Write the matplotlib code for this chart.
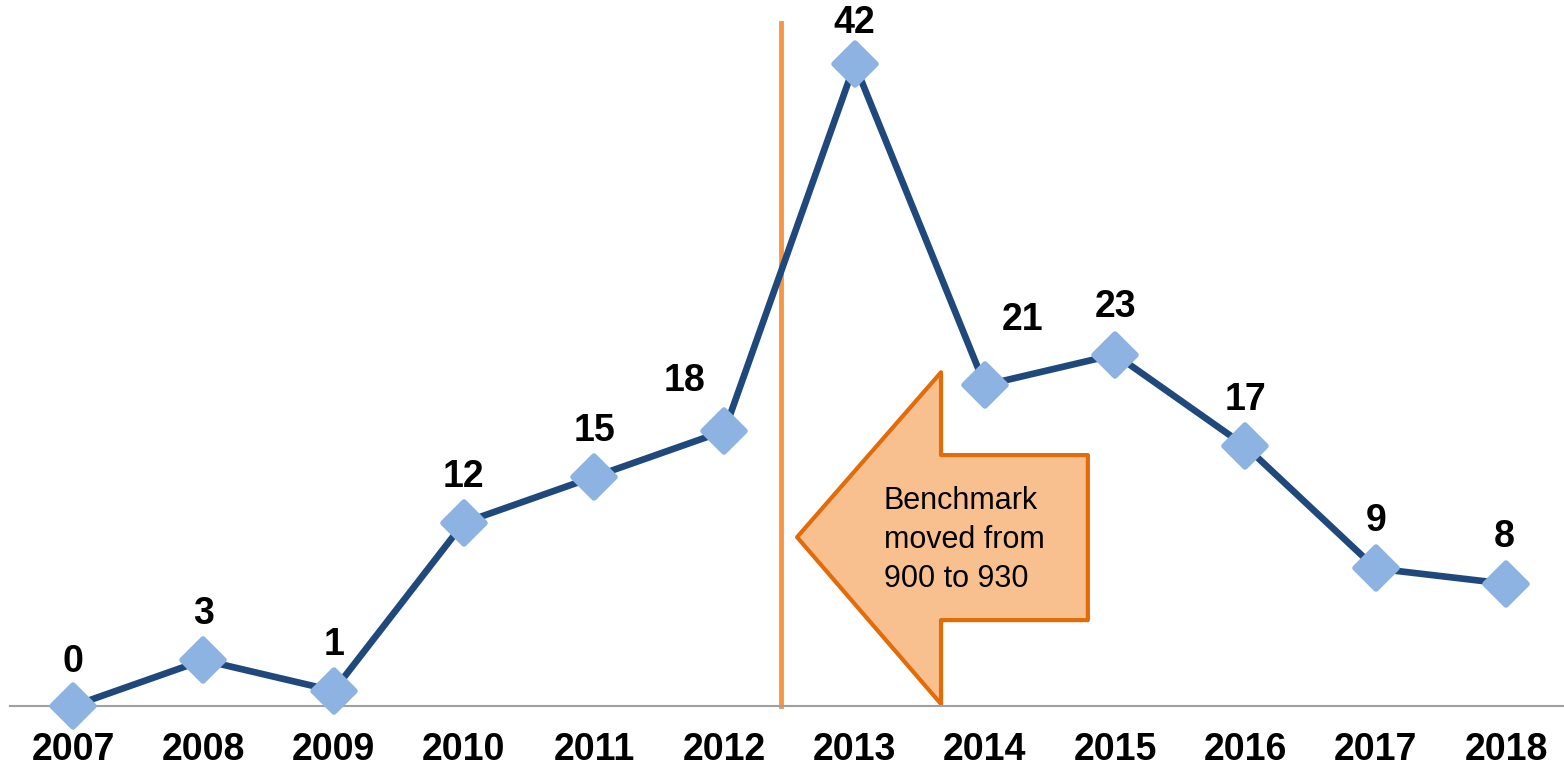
import matplotlib.pyplot as plt
from matplotlib.patches import Polygon
from matplotlib.markers import MarkerStyle

plt.rcParams['font.family'] = ['Liberation Sans', 'DejaVu Sans']

years = ['2007', '2008', '2009', '2010', '2011', '2012',
         '2013', '2014', '2015', '2016', '2017', '2018']
counts = [0, 3, 1, 12, 15, 18, 42, 21, 23, 17, 9, 8]
# label offsets in points (dx, dy) relative to each marker
label_offsets = [(0, 32), (0, 33), (0, 33), (0, 33), (0, 33), (-29, 36),
                 (0, 30), (27, 47), (0, 34), (0, 33), (0, 34), (-1, 34)]

benchmark_x = 5.435
note = 'Benchmark\nmoved from\n900 to 930'

fig = plt.figure(figsize=(15.64, 7.69), dpi=100)
ax = fig.add_axes([10 / 1564, 63 / 769, 1554 / 1564, 706 / 769])

x = list(range(len(years)))
diamond = MarkerStyle('D', joinstyle='round')
ax.plot(x, counts, color='#1F497D', lw=4.8, zorder=3,
        marker=diamond, ms=21, mfc='#8DB3E2', mec='#8DB3E2', mew=4,
        solid_joinstyle='round', clip_on=False)

for xi, v, (dx, dy) in zip(x, counts, label_offsets):
    ax.annotate(str(v), (xi, v), xytext=(dx, dy), textcoords='offset points',
                ha='center', va='center', fontsize=27, fontweight='bold',
                annotation_clip=False)

# benchmark change line
ax.plot([benchmark_x, benchmark_x], [0, 44.7], color='#F79646', lw=3.5,
        zorder=2, clip_on=False)

# callout arrow
arrow = Polygon([(5.558, 11.05), (6.663, 21.84), (6.663, 16.42), (7.79, 16.42),
                 (7.79, 5.62), (6.663, 5.62), (6.663, 0.13)],
                closed=True, facecolor='#F9C08F', edgecolor='#E36C0A',
                lw=3, joinstyle='round', zorder=2)
ax.add_patch(arrow)
ax.text(6.225, 10.86, note, fontsize=22, ha='left', va='center',
        linespacing=1.4, zorder=4)

ax.set_xlim(-0.484, 11.445)
ax.set_ylim(0, 46.2)
ax.set_xticks(x)
ax.set_xticklabels(years, fontsize=27, fontweight='bold')
ax.tick_params(axis='x', length=0, pad=19)
ax.set_yticks([])
for s in ['top', 'right', 'left']:
    ax.spines[s].set_visible(False)
ax.spines['bottom'].set_color('#A0A0A0')
ax.spines['bottom'].set_linewidth(1.5)

fig.savefig('out.png', dpi=100)
